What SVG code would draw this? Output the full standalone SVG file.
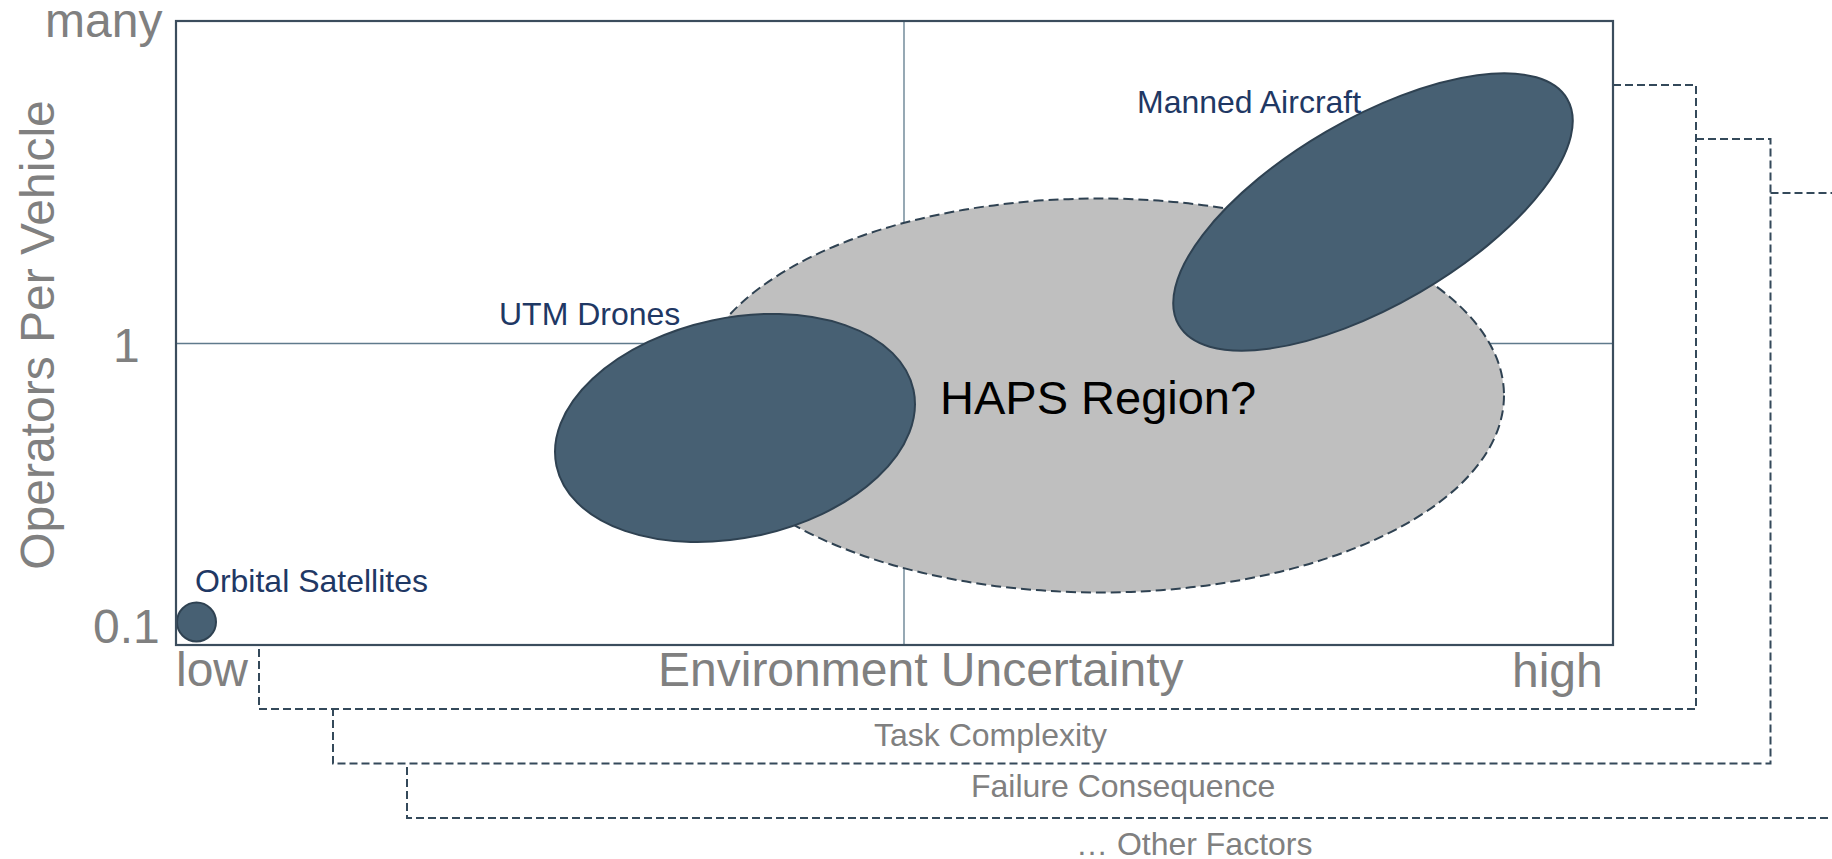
<svg xmlns="http://www.w3.org/2000/svg" width="1832" height="859" viewBox="0 0 1832 859">
  <style>
    text { font-family: "Liberation Sans", Arial, sans-serif; }
    .axis { fill: #808080; font-size: 48px; }
    .factor { fill: #808080; font-size: 32px; }
    .item { fill: #1f3864; font-size: 32px; }
    .grid { stroke: #5f7a8c; stroke-width: 1.3; fill: none; }
    .frame { stroke: #3b4d5d; stroke-width: 2.2; fill: none; }
    .bracket { stroke: #34495a; stroke-width: 2; stroke-dasharray: 8 4; fill: none; }
    .blob { fill: #476073; stroke: #2f4252; stroke-width: 2; }
    .haps { fill: #bfbfbf; stroke: #2f4252; stroke-width: 2; stroke-dasharray: 10 5; }
  </style>

  <rect width="1832" height="859" fill="#ffffff"/>

  <!-- quadrant grid -->
  <g id="grid">
    <line class="grid" x1="904" y1="21" x2="904" y2="645"/>
    <line class="grid" x1="176" y1="343.5" x2="1613" y2="343.5"/>
  </g>

  <!-- nested dashed outlines for the extra factor axes -->
  <g id="factor-brackets">
    <path class="bracket" d="M1613 85 H1696 V709 H259 V645"/>
    <path class="bracket" d="M1696 139 H1770.5 V763.5 H333 V709"/>
    <path class="bracket" d="M1770.5 193 H1840 M1840 818 H407 V763.5"/>
  </g>

  <g id="haps-region">
    <ellipse class="haps" cx="1099" cy="395.5" rx="405" ry="197"/>
  </g>

  <g id="utm-drones">
    <ellipse class="blob" cx="735" cy="428" rx="182.5" ry="110" transform="rotate(-12 735 428)"/>
    <text class="item" x="499" y="325">UTM Drones</text>
  </g>

  <g id="manned-aircraft">
    <ellipse class="blob" cx="1373" cy="212" rx="224.7" ry="93" transform="rotate(-30.2 1373 212)"/>
    <text class="item" x="1137" y="112.5">Manned Aircraft</text>
  </g>

  <g id="orbital-satellites">
    <circle class="blob" cx="196.5" cy="622" r="19.5"/>
    <text class="item" x="195" y="591.5">Orbital Satellites</text>
  </g>

  <g id="haps-label">
    <text x="940" y="414" font-size="47" fill="#000000">HAPS Region?</text>
  </g>

  <!-- plot frame -->
  <g id="plot-frame">
    <rect class="frame" x="176" y="21" width="1437" height="624"/>
  </g>

  <!-- axis labels -->
  <g id="y-axis">
    <text class="axis" x="45" y="37" font-size="46">many</text>
    <text class="axis" x="113" y="362">1</text>
    <text class="axis" x="93" y="643">0.1</text>
    <text class="axis" transform="translate(54 335) rotate(-90)" text-anchor="middle">Operators Per Vehicle</text>
  </g>
  <g id="x-axis">
    <text class="axis" x="176" y="686">low</text>
    <text class="axis" x="658" y="686">Environment Uncertainty</text>
    <text class="axis" x="1512" y="687">high</text>
  </g>

  <g id="factor-labels">
    <text class="factor" x="874" y="746">Task Complexity</text>
    <text class="factor" x="971" y="797">Failure Consequence</text>
    <text class="factor" x="1076" y="855">… Other Factors</text>
  </g>
</svg>
